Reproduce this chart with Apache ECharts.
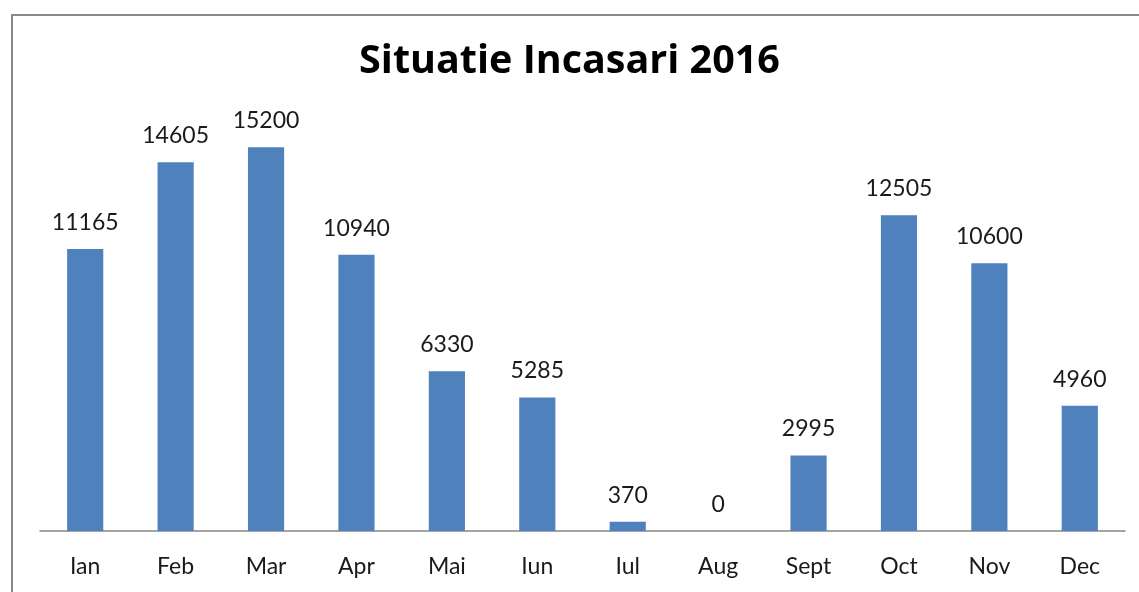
<!DOCTYPE html>
<html>
<head>
<meta charset="utf-8">
<script src="https://cdn.jsdelivr.net/npm/echarts@6/dist/echarts.min.js"></script>
<style>
html,body{margin:0;padding:0;background:#fff;}
#chart{width:1139px;height:592px;}
</style>
</head>
<body>
<div id="chart"></div>
<script>
const titleText = 'Situatie Incasari 2016';
const months = ['Ian','Feb','Mar','Apr','Mai','Iun','Iul','Aug','Sept','Oct','Nov','Dec'];
const incasari = [11165,14605,15200,10940,6330,5285,370,0,2995,12505,10600,4960];

const chart = echarts.init(document.getElementById('chart'), null, {renderer:'canvas'});
chart.setOption({
  animation:false,
  backgroundColor:'#ffffff',
  textStyle:{fontFamily:'Lato'},
  graphic:[{
    type:'rect', z:-10,
    shape:{x:12,y:15,width:1150,height:620},
    style:{fill:'#ffffff',stroke:'#898989',lineWidth:2}
  }],
  title:{
    text:titleText,
    left:'center',
    top:37,
    textStyle:{fontFamily:'Open Sans',fontWeight:'bold',fontSize:39.5,color:'#000'}
  },
  grid:{left:40,right:14,top:127,bottom:61,containLabel:false},
  xAxis:{
    type:'category',
    data:months,
    axisLine:{show:true,lineStyle:{color:'#868686',width:1.5}},
    axisTick:{show:false},
    axisLabel:{fontFamily:'Lato',fontSize:23,color:'#1a1a1a',margin:24}
  },
  yAxis:{
    type:'value',min:0,max:16000,show:false,
    splitLine:{show:false}
  },
  series:[{
    type:'bar',
    data:incasari,
    barWidth:'40%',
    itemStyle:{color:'#4F81BD'},
    label:{show:true,position:'top',distance:15,fontFamily:'Lato',fontSize:23,color:'#1a1a1a'}
  }]
});
</script>
</body>
</html>
